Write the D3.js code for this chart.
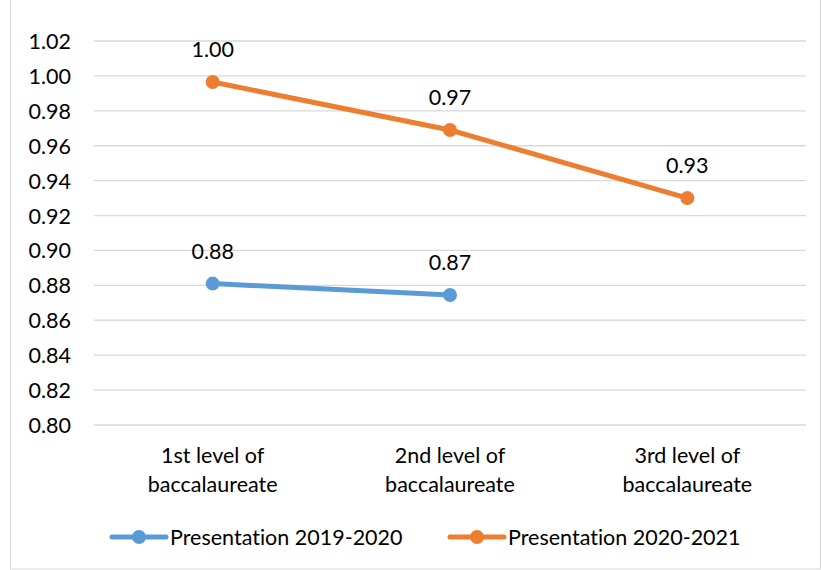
<!DOCTYPE html>
<html>
<head>
<meta charset="utf-8">
<script src="https://cdn.jsdelivr.net/npm/d3@7"></script>
<style>
  body { margin: 0; background: #fff; }
  svg text { font-family: Lato, "Noto Sans", sans-serif; fill: #000; font-variant-ligatures: none; }
</style>
</head>
<body>
<div id="chart"></div>
<script>
let categories = [['1st level of', 'baccalaureate'], ['2nd level of', 'baccalaureate'], ['3rd level of', 'baccalaureate']];
let seriesNames = ['Presentation 2019-2020', 'Presentation 2020-2021'];
let values2019 = [0.881, 0.8745, null];
let values2020 = [0.9965, 0.969, 0.930];
let labels2019 = ['0.88', '0.87', null];
let labels2020 = ['1.00', '0.97', '0.93'];
let yTicks = [0.80, 0.82, 0.84, 0.86, 0.88, 0.90, 0.92, 0.94, 0.96, 0.98, 1.00, 1.02];
let colors = ['#5B9BD5', '#ED7D31'];

let fontSize = 21.5;

let width = 821, height = 570,
    margin = {left: 94, top: 41, right: 15, bottom: 145},
    clipWidth = width - margin.left - margin.right,
    clipHeight = height - margin.top - margin.bottom;

let svg = d3.select('#chart').append('svg')
    .attr('width', width)
    .attr('height', height);

// outer frame
svg.append('rect')
    .attr('x', 10.5).attr('y', -1)
    .attr('width', width - 11).attr('height', height)
    .attr('fill', 'none')
    .attr('stroke', '#d9d9d9');

let g = svg.append('g')
    .attr('transform', `translate(${margin.left}, ${margin.top})`);

let xScale = d3.scaleBand()
    .domain(d3.range(categories.length))
    .range([0, clipWidth]);

let yScale = d3.scaleLinear()
    .domain([0.80, 1.02])
    .range([clipHeight, 0]);

// gridlines
g.append('g')
    .selectAll('line')
    .data(yTicks)
    .join('line')
    .attr('x1', 0).attr('x2', clipWidth)
    .attr('y1', d => yScale(d)).attr('y2', d => yScale(d))
    .attr('stroke', '#d9d9d9')
    .attr('stroke-width', 1.3);

// y axis labels
let yAxis = g.append('g')
    .call(d3.axisLeft(yScale).tickValues(yTicks).tickFormat(d3.format('.2f')).tickSize(0).tickPadding(23));
yAxis.select('.domain').remove();
yAxis.selectAll('text')
    .attr('font-size', fontSize)
    .attr('dy', '0.35em')
    .style('font-family', 'Lato, "Noto Sans", sans-serif');

let xPos = i => xScale(i) + xScale.bandwidth() / 2;

// x axis labels
let xAxis = g.append('g')
    .attr('transform', `translate(0, ${clipHeight})`);
categories.forEach((c, i) => {
    let t = xAxis.append('text')
        .attr('text-anchor', 'middle')
        .attr('font-size', fontSize);
    t.append('tspan').attr('x', xPos(i)).attr('y', 38).text(c[0]);
    t.append('tspan').attr('x', xPos(i)).attr('y', 67).text(c[1]);
});

function drawSeries(vals, labels, color) {
    let pts = vals.map((v, i) => [i, v]).filter(d => d[1] !== null);
    let line = d3.line()
        .x(d => xPos(d[0]))
        .y(d => yScale(d[1]));
    g.append('path')
        .datum(pts)
        .attr('d', line)
        .attr('fill', 'none')
        .attr('stroke', color)
        .attr('stroke-width', 5)
        .attr('stroke-linecap', 'round');
    g.append('g').selectAll('circle')
        .data(pts)
        .join('circle')
        .attr('cx', d => xPos(d[0]))
        .attr('cy', d => yScale(d[1]))
        .attr('r', 7)
        .attr('fill', color);
    g.append('g').selectAll('text')
        .data(pts)
        .join('text')
        .attr('x', d => xPos(d[0]))
        .attr('y', d => yScale(d[1]) - 25)
        .attr('text-anchor', 'middle')
        .attr('font-size', fontSize)
        .text(d => labels[d[0]]);
}

drawSeries(values2019, labels2019, colors[0]);
drawSeries(values2020, labels2020, colors[1]);

// legend
let legendX = [112, 450];
seriesNames.forEach((name, i) => {
    let lg = svg.append('g')
        .attr('transform', `translate(${legendX[i]}, 537)`);
    lg.append('line')
        .attr('x1', 0).attr('x2', 54)
        .attr('stroke', colors[i])
        .attr('stroke-width', 5)
        .attr('stroke-linecap', 'round');
    lg.append('circle')
        .attr('cx', 27).attr('r', 7)
        .attr('fill', colors[i]);
    lg.append('text')
        .attr('x', 58)
        .attr('dy', '0.35em')
        .attr('font-size', fontSize)
        .text(name);
});
</script>
</body>
</html>
